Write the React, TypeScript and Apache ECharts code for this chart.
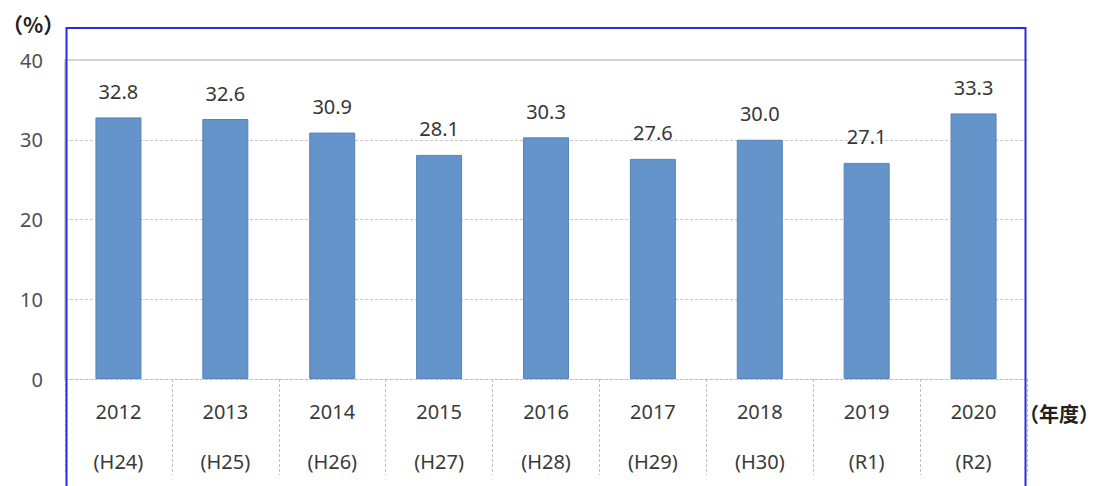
import React, { useEffect, useRef } from "react";
import * as echarts from "echarts";

const years = ["2012", "2013", "2014", "2015", "2016", "2017", "2018", "2019", "2020"];
const eras = ["H24", "H25", "H26", "H27", "H28", "H29", "H30", "R1", "R2"];
const values = [32.8, 32.6, 30.9, 28.1, 30.3, 27.6, 30.0, 27.1, 33.3];
const yTicks = { min: 0, max: 40, interval: 10 };
const yUnit = "（%）";
const xUnit = "（年度）";

const FONT = "'Noto Sans', 'Noto Sans CJK JP', sans-serif";
const JP = "'Noto Sans CJK JP', sans-serif";

export default function App() {
  const ref = useRef<HTMLDivElement>(null);
  useEffect(() => {
    if (!ref.current) return;
    const chart = echarts.init(ref.current, null, { renderer: "svg" });
    const cats = years.map((y, i) => `${y}\n(${eras[i]})`);
    chart.setOption({
      animation: false,
      backgroundColor: "#ffffff",
      grid: { left: 65, right: 74, top: 60, bottom: 103, containLabel: false },
      xAxis: [
        {
          type: "category",
          data: cats,
          position: "bottom",
          axisLine: { show: true, lineStyle: { color: "#bfbfbf", type: [3, 2], width: 1 } },
          axisTick: { show: true, length: 96, interval: 0, lineStyle: { color: "#bfbfbf", type: [3, 2], width: 1 } },
          axisLabel: {
            interval: 0,
            margin: 7,
            color: "#3a3a3a",
            fontFamily: FONT,
            fontSize: 20,
            lineHeight: 50,
          },
        },
        {
          type: "category",
          data: cats,
          position: "top",
          axisLine: { show: true, lineStyle: { color: "#d4d4d4", width: 2 } },
          axisTick: { show: false },
          axisLabel: { show: false },
        },
      ],
      yAxis: {
        type: "value",
        min: yTicks.min,
        max: yTicks.max,
        interval: yTicks.interval,
        axisLine: { show: true, lineStyle: { color: "#d0d0d0", width: 2 } },
        axisTick: { show: false },
        axisLabel: { color: "#505050", fontFamily: FONT, fontSize: 20, margin: 22 },
        splitLine: { show: true, lineStyle: { color: "#c8c8c8", type: [3, 2], width: 1 } },
      },
      series: [
        {
          type: "bar",
          data: values,
          barWidth: 46,
          itemStyle: { color: "#6494c9", borderColor: "#5683b9", borderWidth: 1 },
          label: {
            show: true,
            position: "top",
            distance: 16,
            color: "#363636",
            fontFamily: FONT,
            fontSize: 20,
            formatter: (p: any) => Number(p.value).toFixed(1),
          },
        },
      ],
      graphic: [
        {
          type: "rect",
          shape: { x: 66.5, y: 28, width: 959, height: 480 },
          style: { fill: "none", stroke: "#2a2ae0", lineWidth: 2 },
          silent: true,
          z: 100,
        },
        {
          type: "text",
          x: 2,
          y: 13,
          style: { text: yUnit, fill: "#202020", font: `bold 21px ${JP}` },
        },
        {
          type: "text",
          x: 1019,
          y: 403,
          style: { text: xUnit, fill: "#202020", font: `bold 20px ${JP}` },
        },
      ],
    });
    return () => chart.dispose();
  }, []);
  return <div ref={ref} style={{ width: 1101, height: 486, position: "fixed", left: 0, top: 0 }} />;
}
